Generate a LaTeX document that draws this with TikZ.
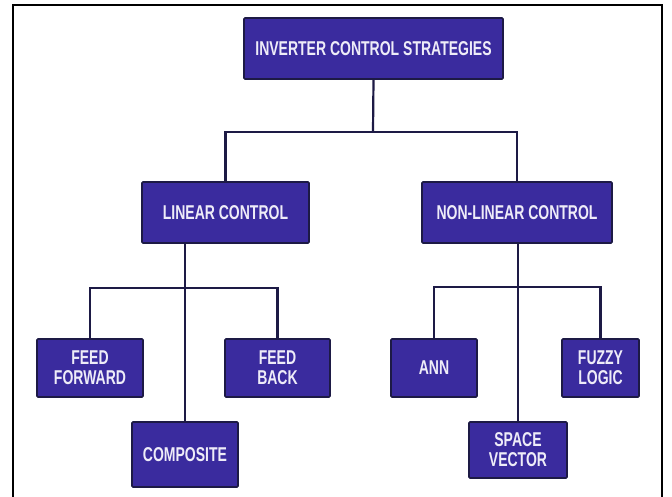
\documentclass[tikz,border=0pt]{standalone}
\usepackage{fontspec}
\setmainfont{Liberation Sans}
\newfontfamily\narrowfont{Liberation Sans}[FakeStretch=0.70]
\usetikzlibrary{positioning}
\definecolor{boxBlue}{HTML}{3A2B9E}
\definecolor{edgeNavy}{HTML}{1D1A45}
\definecolor{textPale}{HTML}{EEECF8}
\tikzset{
  block/.style={draw=edgeNavy, line width=1.6pt, fill=boxBlue, rounded corners=1pt,
                text=textPale, align=center, inner sep=2pt,
                font=\narrowfont\bfseries\fontsize{20}{20}\selectfont},
  link/.style={draw=edgeNavy, line width=2.2pt},
  frame/.style={draw=black, line width=2pt},
}

\begin{document}
\begin{tikzpicture}[x=1pt, y=-1pt]
\useasboundingbox (0,0) rectangle (672,496);
\draw[frame] (13,500) -- (13,5) -- (662,5) -- (662,500);

% boxes
\node[block, minimum width=259pt, minimum height=61pt] (top) at (373.5,48.5) {INVERTER CONTROL STRATEGIES};
\node[block, minimum width=167pt, minimum height=61pt] (lin) at (225.5,212.5) {LINEAR CONTROL};
\node[block, minimum width=190pt, minimum height=61pt] (nonlin) at (517,212.5) {NON-LINEAR CONTROL};

\node[block, minimum width=106pt, minimum height=58pt] (ff) at (90,368) {FEED\\FORWARD};
\node[block, minimum width=105pt, minimum height=58pt] (fb) at (277.5,368) {FEED\\BACK};
\node[block, minimum width=106pt, minimum height=65pt] (comp) at (185,454.5) {COMPOSITE};

\node[block, minimum width=86pt, minimum height=58pt] (ann) at (434,368) {ANN};
\node[block, minimum width=77pt, minimum height=58pt] (fuzzy) at (600.5,368) {FUZZY\\LOGIC};
\node[block, minimum width=98pt, minimum height=56pt] (sv) at (518,450) {SPACE\\VECTOR};

% connectors
\coordinate (bus1) at (373,132);
\coordinate (bus2) at (185,288);
\coordinate (bus3) at (518,287);
\draw[link] (top.south) -- (bus1);
\draw[link] (lin.north) |- (bus1) -| (nonlin.north);
\draw[link] (lin.south -| comp.north) -- (comp.north);
\draw[link] (ff.north) |- (bus2) -| (fb.north);
\draw[link] (nonlin.south -| sv.north) -- (sv.north);
\draw[link] (ann.north) |- (bus3) -| (fuzzy.north);
\end{tikzpicture}
\end{document}
